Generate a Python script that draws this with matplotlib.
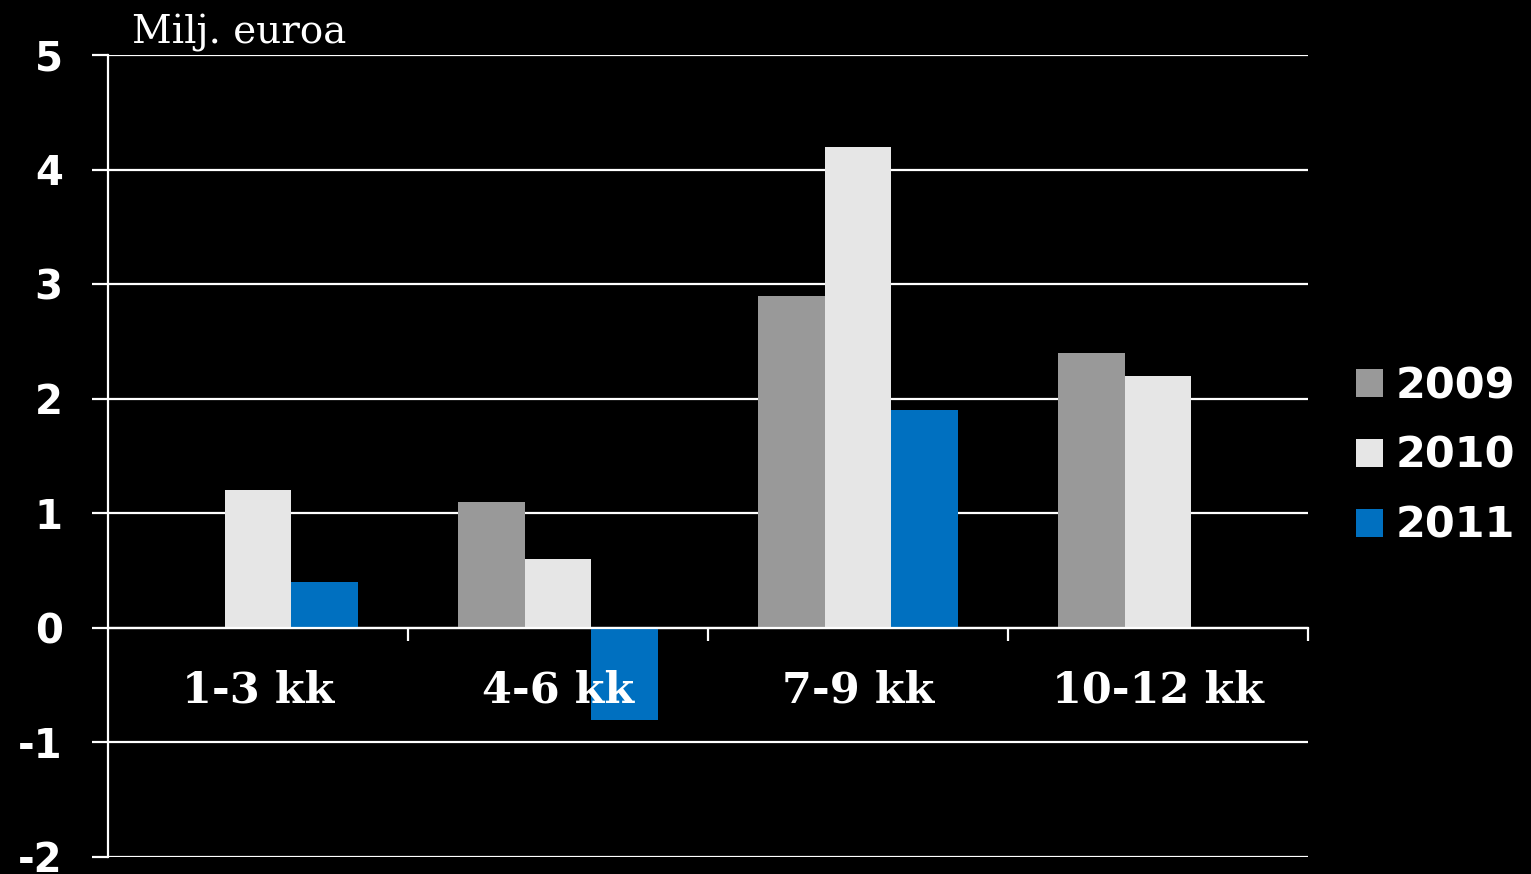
import matplotlib
matplotlib.use("Agg")
import matplotlib.pyplot as plt
import numpy as np
from matplotlib.patches import Patch

# quarterly values, million euros
quarters = ["1-3 kk", "4-6 kk", "7-9 kk", "10-12 kk"]
years = ["2009", "2010", "2011"]
v2009 = [np.nan, 1.1, 2.9, 2.4]
v2010 = [1.2, 0.6, 4.2, 2.2]
v2011 = [0.4, -0.8, 1.9, np.nan]
colors = ["#999999", "#e6e6e6", "#0070c0"]
yticks = [-2, -1, 0, 1, 2, 3, 4, 5]

BG = "black"
FG = "white"
plt.rcParams["axes.unicode_minus"] = False

fig = plt.figure(figsize=(15.31, 8.74), dpi=100, facecolor=BG)
ax = fig.add_axes([108 / 1531, 1 - 857 / 874, 1200 / 1531, 802 / 874])
ax.set_facecolor(BG)

x = np.arange(len(quarters))
w = 2 / 9
for i, vals in enumerate([v2009, v2010, v2011]):
    ax.bar(x + (i - 1) * w, vals, width=w, color=colors[i], zorder=2)

ax.set_xlim(-0.5, len(quarters) - 0.5)
ax.set_ylim(-2, 5)
ax.set_axisbelow(True)

# horizontal grid + outward ticks on the left
ax.set_yticks(yticks)
ax.yaxis.grid(True, color=FG, linewidth=1.6)
ax.tick_params(axis="y", colors=FG, length=11.5, width=1.6, pad=21,
               labelsize=29)
for lbl in ax.get_yticklabels():
    lbl.set_family("DejaVu Sans")
    lbl.set_fontweight("bold")

# category separators hanging below the zero line
ax.set_xticks(np.arange(0.5, len(quarters), 1))
ax.set_xticklabels([])
ax.tick_params(axis="x", colors=FG, length=9, width=1.6, direction="out")
for i, q in enumerate(quarters):
    ax.text(i, -0.55, q, ha="center", va="center", color=FG, fontsize=31,
            fontweight="bold", family="DejaVu Serif", zorder=5)

for side in ["top", "right"]:
    ax.spines[side].set_visible(False)
ax.spines["bottom"].set_position(("data", 0))
ax.spines["bottom"].set_color(FG)
ax.spines["bottom"].set_linewidth(1.6)
ax.spines["left"].set_color(FG)
ax.spines["left"].set_linewidth(1.6)

fig.text(132 / 1531, 1 - 43 / 874, "Milj. euroa", color=FG, fontsize=28,
         family="DejaVu Serif", va="baseline", ha="left")

handles = [Patch(facecolor=c, edgecolor="none") for c in colors]
leg = fig.legend(handles, years, loc="center left",
                 bbox_to_anchor=(1356 / 1531, 1 - 456 / 874),
                 frameon=False, fontsize=31, borderpad=0, borderaxespad=0,
                 handlelength=0.62, handleheight=0.62, handletextpad=0.3,
                 labelspacing=0.65)
for t in leg.get_texts():
    t.set_color(FG)
    t.set_fontweight("bold")

fig.savefig("out.png", dpi=100, facecolor=BG)
